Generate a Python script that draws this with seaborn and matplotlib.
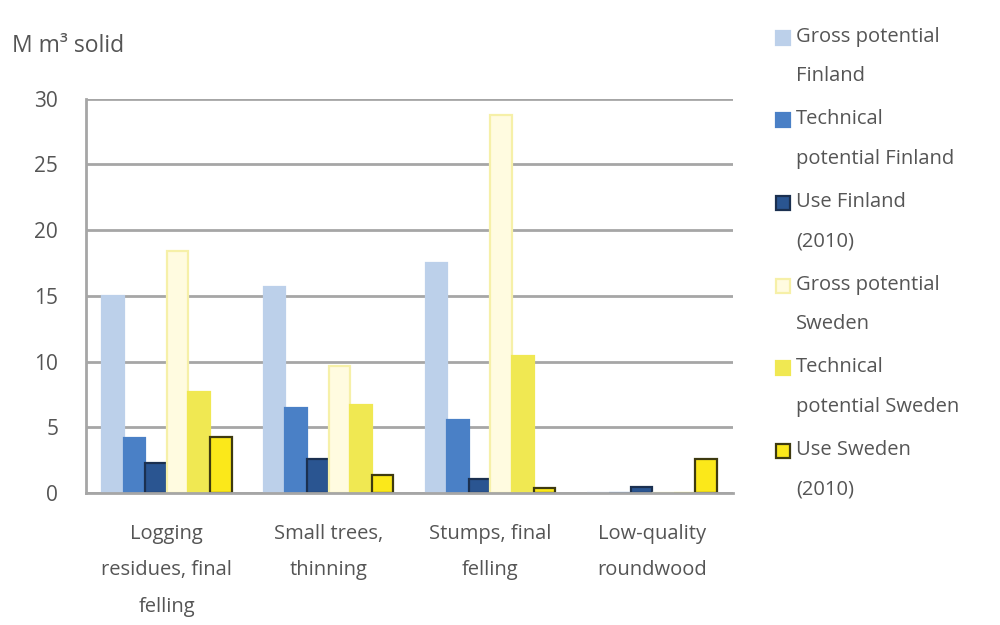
import matplotlib
matplotlib.use("Agg")
import matplotlib.pyplot as plt
from matplotlib.patches import Rectangle
from matplotlib.legend_handler import HandlerPatch
import seaborn as sns
import pandas as pd

# --- data ---
categories = ["Logging\nresidues, final\nfelling", "Small trees,\nthinning",
              "Stumps, final\nfelling", "Low-quality\nroundwood"]
series = ["Gross potential\nFinland", "Technical\npotential Finland", "Use Finland\n(2010)",
          "Gross potential\nSweden", "Technical\npotential Sweden", "Use Sweden\n(2010)"]
gross_fi = [15.0, 15.7, 17.5, 0.0]
tech_fi = [4.2, 6.5, 5.6, 0.0]
use_fi = [2.3, 2.6, 1.1, 0.5]
gross_se = [18.4, 9.7, 28.8, 0.0]
tech_se = [7.7, 6.7, 10.4, 0.0]
use_se = [4.3, 1.4, 0.4, 2.6]

fill_colors = ["#bcd0ea", "#4a80c6", "#2a5591", "#fffbe0", "#f0e852", "#fbe81a"]
edge_colors = ["#bcd0ea", "#4a80c6", "#1b3050", "#f6f0a8", "#f0e852", "#3e3a10"]
text_grey = "#555555"

rows = []
for name, vals in zip(series, [gross_fi, tech_fi, use_fi, gross_se, tech_se, use_se]):
    for cat, v in zip(categories, vals):
        rows.append({"category": cat, "series": name, "value": v})
df = pd.DataFrame(rows)

sns.set_style("white")
plt.rcParams["font.family"] = ["Open Sans", "DejaVu Sans"]

fig = plt.figure(figsize=(10, 6.25), dpi=100)
ax = fig.add_axes([0.086, 0.211, 0.647, 0.631])

sns.barplot(data=df, x="category", y="value", hue="series", hue_order=series,
            palette=fill_colors, saturation=1, width=0.8, ax=ax, legend=False)

for cont, ec in zip(ax.containers, edge_colors):
    for bar in cont:
        bar.set_edgecolor(ec)
        bar.set_linewidth(1.6)

ax.set_ylim(0, 30)
ax.set_yticks(range(0, 31, 5))
ax.yaxis.grid(True, color="#a6a6a6", linewidth=2)
ax.set_axisbelow(True)
ax.set_xlabel("")
ax.set_ylabel("")
for s in ["top", "right"]:
    ax.spines[s].set_visible(False)
for s in ["left", "bottom"]:
    ax.spines[s].set_color("#a6a6a6")
    ax.spines[s].set_linewidth(2)
ax.tick_params(axis="y", length=0, pad=20, labelsize=15, labelcolor=text_grey)
ax.tick_params(axis="x", length=0, pad=22, labelsize=14.5, labelcolor=text_grey)
for lab in ax.get_xticklabels():
    lab.set_linespacing(2.1)

fig.text(0.012, 0.927, "M m³ solid", fontsize=16.5, color=text_grey, ha="left", va="center")


# legend square sits next to the first text line, not centred on the two lines
def top_square(legend, orig_handle, xdescent, ydescent, width, height, fontsize):
    return Rectangle((-xdescent, -ydescent + 0.95 * fontsize), width, height)


handles = [Rectangle((0, 0), 1, 1, facecolor=fc, edgecolor=ec, linewidth=1.6)
           for fc, ec in zip(fill_colors, edge_colors)]
leg = fig.legend(handles, series, loc="upper left", bbox_to_anchor=(0.762, 0.98),
                 frameon=False, fontsize=14.5, handlelength=0.7, handleheight=0.7,
                 handletextpad=0.3, labelspacing=1.15, borderpad=0.2,
                 handler_map={Rectangle: HandlerPatch(patch_func=top_square)})
for t in leg.get_texts():
    t.set_color(text_grey)
    t.set_linespacing(2.3)

fig.savefig("out.png", dpi=100)
